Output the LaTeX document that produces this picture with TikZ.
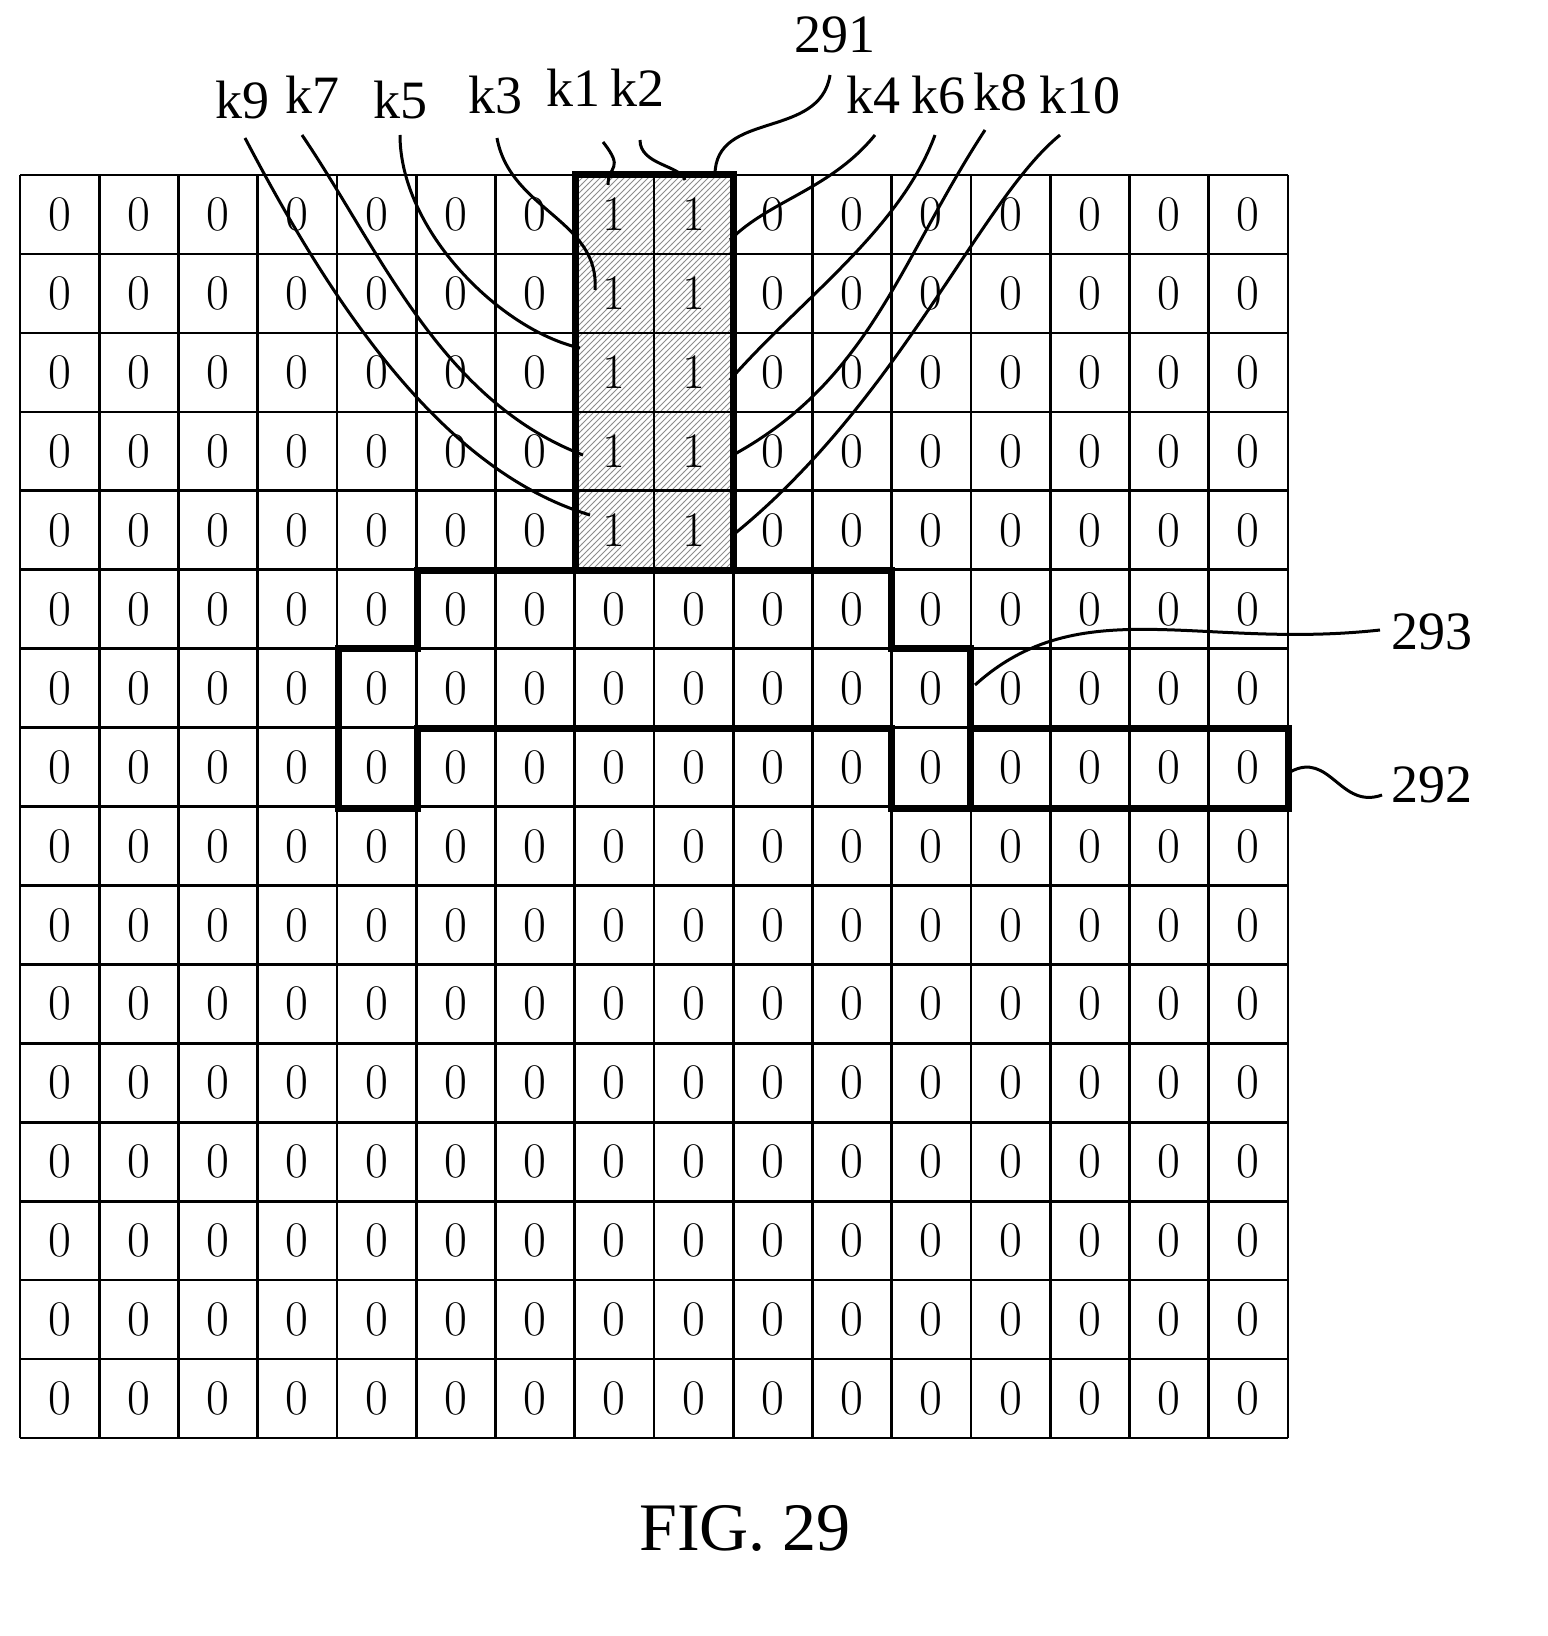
\documentclass[tikz,border=0pt]{standalone}
\usepackage{fontspec}
\setmainfont{Liberation Serif}
\usetikzlibrary{patterns}
\begin{document}
\begin{tikzpicture}[x=0.5pt,y=-0.5pt,
  cellnum/.style={font=\fontsize{27}{27}\selectfont},
  lbl/.style={font=\fontsize{27}{27}\selectfont},
  lead/.style={line width=1.5pt},
  outline/.style={line width=3.5pt,line join=miter}]
\useasboundingbox (0,0) rectangle (1547,1636);

% hatched block
\fill[pattern=north east lines,pattern color=black!45] (575,175) rectangle (733,570);

% grid
\foreach \i in {0,...,16}{
  \draw[line width=1.3pt] (20+79.25*\i,175)--(20+79.25*\i,1438);
  \draw[line width=1.3pt] (20,175+78.94*\i)--(1288,175+78.94*\i);
}
\foreach \r in {0,...,15}
  \foreach \c in {0,...,15}{
    \pgfmathsetmacro\v{(\c==7||\c==8)&&(\r<5)?1:0}
    \node[cellnum,inner sep=1pt] (c-\r-\c) at (20+79.25*\c+39.6,175+78.94*\r+39.5) {\pgfmathprintnumber[int detect]{\v}};
  }

% outlines
\draw[outline] (575,175) rectangle (733,570);
\draw[outline] (417,570)--(891,570)--(891,648)--(970,648)--(970,808)--(891,808)--(891,728)
  --(417,728)--(417,808)--(338,808)--(338,648)--(417,648)--cycle;
\draw[outline] (970,728) rectangle (1288,808);

% labels
\node[lbl] (l291) at (835,35) {291};
\node[lbl] (k9) at (242,100) {k9};
\node[lbl] (k7) at (312,95) {k7};
\node[lbl] (k5) at (400,100) {k5};
\node[lbl] (k3) at (495,95) {k3};
\node[lbl] (k1) at (573,88) {k1};
\node[lbl] (k2) at (637,88) {k2};
\node[lbl] (k4) at (873,95) {k4};
\node[lbl] (k6) at (938,95) {k6};
\node[lbl] (k8) at (1000,92) {k8};
\node[lbl] (k10) at (1080,95) {k10};
\node[lbl] (l293) at (1432,632) {293};
\node[lbl] (l292) at (1432,785) {292};
\node[font=\fontsize{34}{34}\selectfont] (fig) at (745,1528) {FIG. 29};

% leaders
\draw[lead] (245,138) .. controls (330,300) and (440,470) .. (590,515);
\draw[lead] (302,135) .. controls (380,250) and (440,400) .. (583,455);
\draw[lead] (400,135) .. controls (400,230) and (500,330) .. (580,348);
\draw[lead] (497,138) .. controls (510,210) and (600,220) .. (595,290);
\draw[lead] (603,142) .. controls (625,170) and (608,165) .. (608,185);
\draw[lead] (640,140) .. controls (640,165) and (680,165) .. (685,180);
\draw[lead] (830,75) .. controls (820,140) and (715,110) .. (715,175);
\draw[lead] (875,135) .. controls (830,190) and (770,200) .. (730,240);
\draw[lead] (935,135) .. controls (900,230) and (800,300) .. (730,380);
\draw[lead] (985,130) .. controls (900,260) and (870,380) .. (733,455);
\draw[lead] (1060,135) .. controls (980,200) and (900,400) .. (733,535);
\draw[lead] (1380,630) .. controls (1200,650) and (1080,590) .. (975,685);
\draw[lead] (1290,772) .. controls (1330,750) and (1340,810) .. (1382,795);
\end{tikzpicture}
\end{document}
